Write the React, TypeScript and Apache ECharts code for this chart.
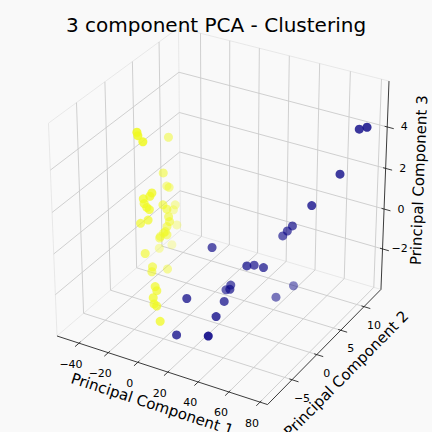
import * as echarts from 'echarts';
import { useEffect, useRef } from 'react';

const chartTitle = '3 component PCA - Clustering';
const axisNames = ['Principal Component 1', 'Principal Component 2', 'Principal Component 3'];

// axis limits (PC1, PC2, PC3)
const xRange = [-55.2, 84.8];
const yRange = [-9.78, 13.75];
const zRange = [-4.07, 6.17];

const xTicks = [-40, -20, 0, 20, 40, 60, 80];
const yTicks = [-5, 0, 5, 10];
const zTicks = [-2, 0, 2, 4];

// cluster 0 (dark blue): [PC1, PC2, PC3]
const cluster0 = [
  [73.8, 11.4, 4.15],
  [78.7, 11.4, 4.34],
  [69.3, 9.05, 2.39],
  [58.7, 6.7, 1.15],
  [46.3, 6.7, -0.11],
  [43.0, 6.7, -0.43],
  [40.0, 6.7, -0.74],
  [8.4, 2.0, -0.95],
  [31.7, 2.0, -1.35],
  [32.6, 3.2, -1.57],
  [38.8, 3.2, -1.55],
  [43.9, 7.9, -3.44],
  [39.9, 5.5, -3.55],
  [21.0, 2.0, -2.55],
  [17.8, 2.0, -2.86],
  [24.5, 0.8, -2.4],
  [7.7, -2.7, -2.42],
  [24.8, -0.4, -2.72],
  [27.3, -2.7, -2.87],
  [9.2, -5.1, -3.63],
  [34.4, -6.25, -2.81],
];

// cluster 1 (yellow): [PC1, PC2, PC3]
const cluster1 = [
  [-32.8, -0.4, 4.3],
  [-32.2, -0.4, 4.15],
  [-28.9, -0.4, 3.92],
  [-41.9, 7.9, 2.2],
  [-37.1, 5.5, 1.03],
  [-39.1, 6.7, 0.08],
  [-37.5, 6.7, 0.05],
  [-23.4, -0.4, 1.58],
  [-24.8, -0.4, 1.39],
  [-29.3, -0.4, 1.17],
  [-28.8, -0.4, 0.95],
  [-27.0, -0.4, 0.8],
  [-25.3, -0.4, 0.73],
  [-31.5, -0.4, -0.08],
  [-26.3, -0.4, 0.19],
  [-29.2, 3.2, 0.1],
  [-26.5, 3.2, -0.06],
  [-37.7, 7.9, -1.1],
  [-39.0, 7.9, -1.38],
  [-25.4, 3.2, -0.41],
  [-24.8, 3.2, -0.64],
  [-36.7, 7.9, -2.1],
  [-26.6, 3.2, -0.93],
  [-27.8, 3.2, -1.21],
  [-31.3, 3.2, -1.53],
  [-29.0, 3.2, -1.31],
  [-26.7, 3.2, -1.35],
  [-31.8, 3.2, -1.62],
  [-40.4, 7.9, -3.2],
  [-40.6, 5.5, -2.85],
  [-28.7, -0.4, -1.52],
  [-23.8, -0.4, -2.08],
  [-24.3, -0.4, -2.34],
  [-26.6, 3.2, -3.08],
  [-13.7, -2.7, -2.31],
  [-12.6, -2.7, -2.49],
  [-10.7, -3.9, -2.52],
  [-10.2, -3.9, -2.82],
  [-8.4, -3.9, -2.88],
  [-1.8, -5.1, -3.21],
];

const clusterColors = ['#0d0887', '#f0f921'];

// camera, same as matplotlib's default 3d view
const ELEV = 30;
const AZIM = -60;
const DIST = 10;
const SCALE = 2430;
const CENTER = [221.5, 209.7];

const rad = Math.PI / 180;
const W = [
  Math.cos(ELEV * rad) * Math.cos(AZIM * rad),
  Math.cos(ELEV * rad) * Math.sin(AZIM * rad),
  Math.sin(ELEV * rad),
];
const wn = Math.hypot(W[0], W[1]);
const U = [-W[1] / wn, W[0] / wn, 0];
const V = [
  W[1] * U[2] - W[2] * U[1],
  W[2] * U[0] - W[0] * U[2],
  W[0] * U[1] - W[1] * U[0],
];

const scaleTo = (v: number, r: number[]) => (v - r[0]) / (r[1] - r[0]) - 0.5;
const dot = (a: number[], b: number[]) => a[0] * b[0] + a[1] * b[1] + a[2] * b[2];

const project = (x: number, y: number, z: number) => {
  const d = [scaleTo(x, xRange), scaleTo(y, yRange), scaleTo(z, zRange)];
  const depth = dot(W, d);
  const k = SCALE / (DIST - depth);
  return [CENTER[0] + k * dot(U, d), CENTER[1] - k * dot(V, d), depth];
};

const [x0, x1] = xRange;
const [y0, y1] = yRange;
const [z0, z1] = zRange;
const xr = x1 - x0;
const yr = y1 - y0;

// [xa, ya, za, xb, yb, zb, kind]  kind: 0 grid, 1 axis, 2 pane edge
const segments: number[][] = [];
// pane edges
segments.push([x0, y1, z1, x1, y1, z1, 2]);
segments.push([x0, y0, z1, x0, y1, z1, 2]);
segments.push([x0, y0, z0, x0, y0, z1, 2]);
segments.push([x0, y1, z0, x0, y1, z1, 2]);
segments.push([x0, y0, z0, x0, y1, z0, 2]);
segments.push([x0, y1, z0, x1, y1, z0, 2]);
// floor grid
xTicks.forEach((t) => segments.push([t, y0, z0, t, y1, z0, 0]));
yTicks.forEach((t) => segments.push([x0, t, z0, x1, t, z0, 0]));
// back pane grid
xTicks.forEach((t) => segments.push([t, y1, z0, t, y1, z1, 0]));
zTicks.forEach((t) => segments.push([x0, y1, t, x1, y1, t, 0]));
// left pane grid
yTicks.forEach((t) => segments.push([x0, t, z0, x0, t, z1, 0]));
zTicks.forEach((t) => segments.push([x0, y0, t, x0, y1, t, 0]));
// axis lines
segments.push([x0, y0, z0, x1, y0, z0, 1]);
segments.push([x1, y0, z0, x1, y1, z0, 1]);
segments.push([x1, y1, z0, x1, y1, z1, 1]);
// tick marks
xTicks.forEach((t) => segments.push([t, y0 + 0.012 * yr, z0, t, y0 - 0.03 * yr, z0, 1]));
yTicks.forEach((t) => segments.push([x1 - 0.012 * xr, t, z0, x1 + 0.03 * xr, t, z0, 1]));
zTicks.forEach((t) => segments.push([x1 - 0.012 * xr, y1, t, x1 + 0.03 * xr, y1, t, 1]));

const lineColors = ['#cbcbcb', '#262626', '#e3e3e3'];
const lineWidths = [0.9, 0.9, 0.8];

// tick labels: [axis, value]
const tickItems: number[][] = [
  ...xTicks.map((t) => [0, t]),
  ...yTicks.map((t) => [1, t]),
  ...zTicks.map((t) => [2, t]),
];
const tickAnchor = (axis: number, t: number) =>
  axis === 0 ? project(t, y0, z0) : axis === 1 ? project(x1, t, z0) : project(x1, y1, t);
const tickOffsets = [
  [-8, 21],
  [10, 18.5],
  [17, 0],
];

const axisEnds = [
  [[x0, y0, z0], [x1, y0, z0]],
  [[x1, y0, z0], [x1, y1, z0]],
  [[x1, y1, z0], [x1, y1, z1]],
];
const nameOffsets = [
  [-10, 34],
  [22, 27],
  [34, -5],
];

const pointItems = [
  ...cluster0.map((p) => [p[0], p[1], p[2], 0]),
  ...cluster1.map((p) => [p[0], p[1], p[2], 1]),
]
  .map((p) => [...p, project(p[0], p[1], p[2])[2]])
  .sort((a, b) => a[4] - b[4]);
const depths = pointItems.map((p) => p[4]);
const dMin = Math.min(...depths);
const dMax = Math.max(...depths);

const FONT = 'DejaVu Sans';

const PCA3D = () => {
  const chartRef = useRef(null);

  useEffect(() => {
    const chart = echarts.init(chartRef.current, null, { renderer: 'svg' });

    const option = {
      animation: false,
      backgroundColor: '#f9f9f9',
      title: {
        text: chartTitle,
        left: 'center',
        top: 10,
        textStyle: { fontSize: 20, fontWeight: 'normal', color: '#000', fontFamily: FONT },
      },
      series: [
        {
          type: 'custom',
          coordinateSystem: 'none',
          silent: true,
          data: segments,
          renderItem: (params: any, api: any) => {
            const p = project(api.value(0), api.value(1), api.value(2));
            const q = project(api.value(3), api.value(4), api.value(5));
            const kind = api.value(6);
            return {
              type: 'line',
              shape: { x1: p[0], y1: p[1], x2: q[0], y2: q[1] },
              style: { stroke: lineColors[kind], lineWidth: lineWidths[kind] },
            };
          },
        },
        {
          type: 'custom',
          coordinateSystem: 'none',
          silent: true,
          data: tickItems,
          renderItem: (params: any, api: any) => {
            const axis = api.value(0);
            const t = api.value(1);
            const p = tickAnchor(axis, t);
            return {
              type: 'text',
              x: p[0] + tickOffsets[axis][0],
              y: p[1] + tickOffsets[axis][1],
              style: {
                text: String(t).replace('-', '\u2212'),
                fill: '#000',
                fontSize: 11,
                fontFamily: FONT,
                align: 'center',
                verticalAlign: 'middle',
                textAlign: 'center',
                textVerticalAlign: 'middle',
              },
            };
          },
        },
        {
          type: 'custom',
          coordinateSystem: 'none',
          silent: true,
          data: [[0], [1], [2]],
          renderItem: (params: any, api: any) => {
            const axis = api.value(0);
            const [a, b] = axisEnds[axis];
            const p = project(a[0], a[1], a[2]);
            const q = project(b[0], b[1], b[2]);
            const angle = Math.atan2(-(q[1] - p[1]), q[0] - p[0]);
            return {
              type: 'text',
              x: (p[0] + q[0]) / 2 + nameOffsets[axis][0],
              y: (p[1] + q[1]) / 2 + nameOffsets[axis][1],
              rotation: angle,
              style: {
                text: axisNames[axis],
                fill: '#000',
                fontSize: 15,
                fontFamily: FONT,
                align: 'center',
                verticalAlign: 'middle',
                textAlign: 'center',
                textVerticalAlign: 'middle',
              },
            };
          },
        },
        {
          type: 'custom',
          coordinateSystem: 'none',
          silent: true,
          data: pointItems,
          renderItem: (params: any, api: any) => {
            const p = project(api.value(0), api.value(1), api.value(2));
            const cluster = api.value(3);
            const sat = 1 - (0.7 * (dMax - p[2])) / (dMax - dMin);
            return {
              type: 'circle',
              shape: { cx: p[0], cy: p[1], r: 4.5 },
              style: { fill: clusterColors[cluster], opacity: 0.9 * sat },
            };
          },
        },
      ],
    };

    chart.setOption(option);

    return () => {
      chart.dispose();
    };
  }, []);

  return (
    <div
      ref={chartRef}
      style={{ position: 'fixed', left: 0, top: 0, width: '432px', height: '432px' }}
    />
  );
};

export default function App() {
  return <PCA3D />;
}
